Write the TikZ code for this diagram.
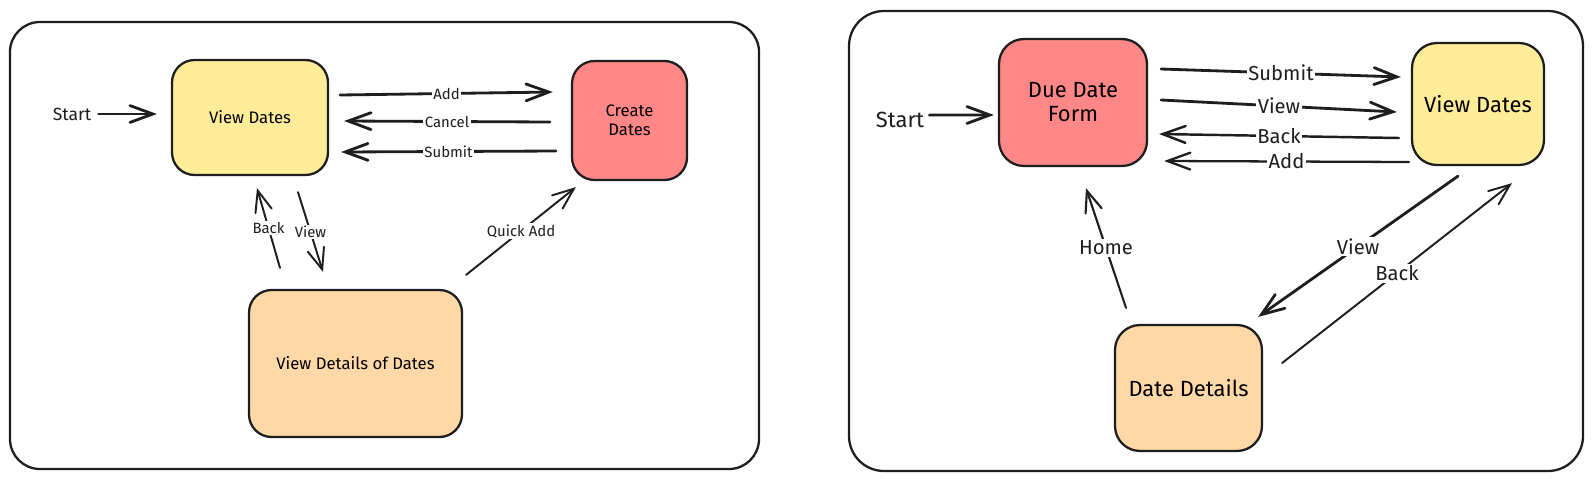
\documentclass[tikz,border=0pt]{standalone}
\usepackage{fontspec}
\setmainfont{Fira Sans}
\usetikzlibrary{arrows.meta,calc}
\definecolor{ink}{HTML}{1E1E1E}
\definecolor{yel}{HTML}{FFEC99}
\definecolor{redb}{HTML}{FF8787}
\definecolor{orb}{HTML}{FFD8A8}
\begin{document}
\begin{tikzpicture}[x=0.02cm,y=-0.02cm,
  frame/.style={draw=ink,line width=1.3pt},
  boxL/.style={draw=ink,line width=1.3pt,rounded corners=0.45cm,align=center,inner sep=0pt,
    font=\fontsize{9.5}{10.8}\selectfont},
  boxR/.style={draw=ink,line width=1.3pt,rounded corners=0.5cm,align=center,inner sep=0pt,
    font=\fontsize{12.5}{13.6}\selectfont},
  arr/.style={draw=ink,line width=1.6pt,line cap=round,
    -{Straight Barb[length=13pt,width=9.6pt,line cap=round]}},
  arrthin/.style={draw=ink,line width=1.1pt,line cap=round,
    -{Straight Barb[length=12pt,width=9.6pt,line cap=round]}},
  lblL/.style={fill=white,inner sep=0.8pt,font=\fontsize{8.5}{10}\selectfont,text=ink},
  lblR/.style={fill=white,inner sep=1pt,font=\fontsize{11.5}{13}\selectfont,text=ink},
  startL/.style={inner sep=0pt,font=\fontsize{10}{12}\selectfont,text=ink},
  startR/.style={inner sep=0pt,font=\fontsize{12.5}{14}\selectfont,text=ink}
]
\useasboundingbox (0,0) rectangle (1593,481);
\fill[white] (0,0) rectangle (1593,481);

% ---------- left diagram ----------
\draw[frame,rounded corners=0.6cm] (10,22) rectangle (759,469);

\node[boxL,fill=yel,minimum width=3.12cm,minimum height=2.3cm] (VD1) at (250,117.5) {View Dates};
\node[boxL,fill=redb,minimum width=2.3cm,minimum height=2.38cm] (CD) at (629.5,120.5) {Create\\Dates};
\node[boxL,fill=orb,minimum width=4.26cm,minimum height=2.94cm] (VDD) at (355.5,363.5) {View Details of Dates};
\node[startL] (S1) at (72,114) {Start};

\draw[arr] ($(S1.east)+(7,0)$) -- ($(VD1.west)+(-14,-3.5)$);
\draw[arr] ($(VD1.east)+(11,-22.5)$) -- node[lblL]{Add} ($(CD.west)+(-18,-28.5)$);
\draw[arr] ($(CD.west)+(-21,1.5)$) -- node[lblL]{Cancel} ($(VD1.east)+(15,3.5)$);
\draw[arr] ($(CD.west)+(-15,30.5)$) -- node[lblL]{Submit} ($(VD1.east)+(12,34.5)$);
\draw[arrthin] ($(VDD.north)+(-75.5,-21)$) -- node[lblL]{Back} ($(VD1.south)+(7,12)$);
\draw[arrthin] ($(VD1.south)+(48,16)$) -- node[lblL]{View} ($(VDD.north)+(-32.5,-17)$);
\draw[arrthin] ($(VDD.north east)+(3,-14)$) -- node[lblL]{Quick Add} ($(CD.south west)+(5,6)$);

% ---------- right diagram ----------
\draw[frame,rounded corners=0.7cm] (849,11) rectangle (1583,471);

\node[boxR,fill=redb,minimum width=2.96cm,minimum height=2.54cm] (DDF) at (1073,102.5) {Due Date\\Form};
\node[boxR,fill=yel,minimum width=2.64cm,minimum height=2.44cm] (VD2) at (1478,104) {View Dates};
\node[boxR,fill=orb,minimum width=2.94cm,minimum height=2.52cm] (DD) at (1188.5,388) {Date Details};
\node[startR] (S2) at (900,120) {Start};

\draw[arr] ($(S2.east)+(5,-5)$) -- ($(DDF.west)+(-4,12.5)$);
\draw[arr] ($(DDF.east)+(13,-33.5)$) -- node[lblR]{Submit} ($(VD2.west)+(-10,-27)$);
\draw[arr] ($(DDF.east)+(13,-2.5)$) -- node[lblR]{View} ($(VD2.west)+(-14,8)$);
\draw[arr,line width=1.4pt] ($(VD2.west)+(-12,34)$) -- node[lblR]{Back} ($(DDF.east)+(11,31.5)$);
\draw[arr,line width=1.3pt] ($(VD2.west)+(-2,58)$) -- node[lblR]{Add} ($(DDF.east)+(16,58.5)$);
\draw[arrthin,line width=1.2pt] ($(DD.north)+(-62.5,-16)$) -- node[lblR]{Home} ($(DDF.south)+(13,21)$);
\draw[arr] ($(VD2.south)+(-20,10)$) -- node[lblR]{View} ($(DD.north east)+(-5,-7)$);
\draw[arrthin] ($(DD.east)+(19,-25)$) -- node[lblR]{Back} ($(VD2.south)+(34,17)$);
\end{tikzpicture}
\end{document}
